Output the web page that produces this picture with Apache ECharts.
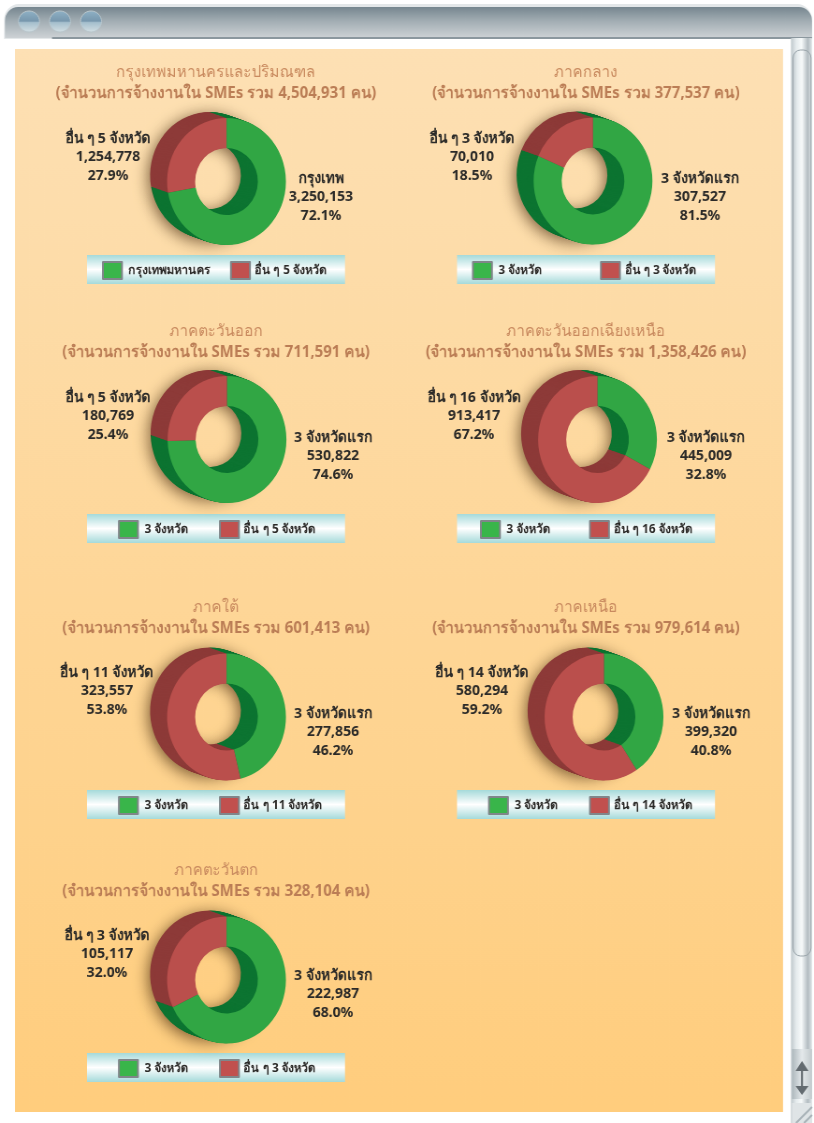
<!DOCTYPE html>
<html><head><meta charset="utf-8">
<style>html,body{margin:0;padding:0;background:#fff;overflow:hidden;width:814px;height:1123px}
#c{width:870px;height:1123px;transform:scaleX(.93563);transform-origin:0 0}</style>
<script src="https://cdn.jsdelivr.net/npm/echarts@6/dist/echarts.min.js"></script>
</head><body><div id="c"></div>
<script>
// ---- data ----
const regions = ['กรุงเทพมหานครและปริมณฑล','ภาคกลาง','ภาคตะวันออก','ภาคตะวันออกเฉียงเหนือ','ภาคใต้','ภาคเหนือ','ภาคตะวันตก'];
const totals  = ['4,504,931','377,537','711,591','1,358,426','601,413','979,614','328,104'];
const firstValues = [3250153,307527,530822,445009,277856,399320,222987];
const otherValues = [1254778,70010,180769,913417,323557,580294,105117];
const firstLegend = ['กรุงเทพมหานคร','3 จังหวัด','3 จังหวัด','3 จังหวัด','3 จังหวัด','3 จังหวัด','3 จังหวัด'];
const otherLegend = ['อื่น ๆ 5 จังหวัด','อื่น ๆ 3 จังหวัด','อื่น ๆ 5 จังหวัด','อื่น ๆ 16 จังหวัด','อื่น ๆ 11 จังหวัด','อื่น ๆ 14 จังหวัด','อื่น ๆ 3 จังหวัด'];
const firstLabel  = ['กรุงเทพ','3 จังหวัดแรก','3 จังหวัดแรก','3 จังหวัดแรก','3 จังหวัดแรก','3 จังหวัดแรก','3 จังหวัดแรก'];

// ---- layout and styles ----
// The whole chart is drawn slightly narrow (the donuts in the picture are tall ellipses),
// so every horizontal page position goes through X().
const CANVAS_W = 870, SX = 814 / CANVAS_W, X = x => x / SX;
const FONT = '"Noto Sans","Open Sans",sans-serif';
const GREEN='#31a644', GREEN_D='#0c7431', RED='#ba4f4c', RED_D='#8d3a38';
const LEG_GREEN='#39b54a', LEG_RED='#c1504e';
const pieCentres = [[226.5,181.5],[593,181],[227,439.5],[597.5,439.5],[226.5,717],[604,717],[226.5,980]];
const titleX = [216,586,216,586,216,586,216];
const titleY = [62,62,321,321,597,597,860];
const barPos = [[87,255],[457,255],[87,514],[457,514],[87,790],[457,790],[87,1053]];
const swatchX = [[102,230],[472,600],[118,219],[480,589],[118,219],[488,589],[118,219]];
const rightLabel = [[321,197],[700,197],[333,456],[706,456],[333,732],[711,732],[333,994]];
const leftLabel  = [[108,157],[472,157],[108,416],[474,416],[107,691],[482,691],[107,954]];
const R_OUT=63.5, R_IN=33.5, SHIFT=[-17,-6], LAYERS=20;

const fmt = n => n.toLocaleString('en-US');
const series=[], titles=[], legends=[], graphics=[];

// window chrome
const hGrad=(stops)=>({type:'linear',x:0,y:0,x2:1,y2:0,colorStops:stops});
const vGrad=(stops)=>({type:'linear',x:0,y:0,x2:0,y2:1,colorStops:stops});
const rail=hGrad([{offset:0,color:'#bfc8cc'},{offset:.25,color:'#e6ecee'},{offset:.5,color:'#f7fafa'},{offset:.8,color:'#b3bcc1'},{offset:1,color:'#dfe5e7'}]);
const box=(x,y,w,h,style,z,r)=>({type:'rect',z,shape:{x:X(x),y,width:X(w),height:h,r:r||0},style});
graphics.push(
 box(15,49,768,1063,{fill:vGrad([{offset:0,color:'#fde0b4'},{offset:1,color:'#ffcd7d'}])},-10),
 box(4,4,808,35,{fill:'#e3e7e9'},-9,[16,16,0,0]),
 box(5,7,807,31,{fill:vGrad([{offset:0,color:'#76868f'},{offset:.45,color:'#a2adb3'},{offset:1,color:'#cdd2d5'}])},-8,[14,14,0,0]),
 box(52,37,760,2,{fill:'#8b979e'},-8),
 box(791,38,21,1085,{fill:rail},-7),
 box(793,50,18,906,{fill:rail,stroke:'#98a3a9',lineWidth:1},-6,[8,8,8,8]),
 box(792,1049,20,50,{fill:hGrad([{offset:0,color:'#aeb8bd'},{offset:.5,color:'#e4e9eb'},{offset:1,color:'#c2cacd'}])},-6),
 box(792,1103,20,20,{fill:'#dfe4e6'},-6),
 {type:'line',z:-5,shape:{x1:X(796),y1:1123,x2:X(812),y2:1107},style:{stroke:'#a9b3b8',lineWidth:2}},
 {type:'line',z:-5,shape:{x1:X(804),y1:1123,x2:X(812),y2:1115},style:{stroke:'#a9b3b8',lineWidth:2}},
 {type:'polygon',z:-5,shape:{points:[[X(802),1061],[X(795.5),1071],[X(808.5),1071]]},style:{fill:'#636b70'}},
 {type:'polygon',z:-5,shape:{points:[[X(802),1095],[X(795.5),1086],[X(808.5),1086]]},style:{fill:'#636b70'}},
 box(801,1070,2,17,{fill:'#636b70'},-5)
);
[29,60,91].forEach(x=>graphics.push({type:'ellipse',z:-5,shape:{cx:X(x),cy:21.5,rx:X(10.5),ry:10.5},
  style:{fill:vGrad([{offset:0,color:'#90b2c6'},{offset:.48,color:'#7797ad'},{offset:.55,color:'#a5bfcd'},{offset:1,color:'#d5e0e4'}]),stroke:'#b9c6cc',lineWidth:1}}));

regions.forEach((name,k)=>{
  const [cx,cy]=pieCentres[k];
  const vals=[firstValues[k],otherValues[k]];
  const names=[firstLegend[k],otherLegend[k]];

  // extruded side walls, from the back layer forward
  for(let i=LAYERS;i>=1;i--){
    const t=i/LAYERS, back=i===LAYERS;
    series.push({type:'pie',silent:true,animation:false,startAngle:90,clockwise:true,
      center:[X(cx+SHIFT[0]*t),cy+SHIFT[1]*t],radius:[R_IN,R_OUT],label:{show:false},labelLine:{show:false},tooltip:{show:false},
      data:[0,1].map(j=>({name:names[j],value:vals[j],itemStyle:{color:j?RED_D:GREEN_D,
        shadowBlur:back?16:0,shadowColor:'rgba(50,25,0,.65)',shadowOffsetX:back?-2:0,shadowOffsetY:back?3:0}}))});
  }
  // front face with the labels
  const spots=[rightLabel[k],leftLabel[k]];
  series.push({type:'pie',animation:false,startAngle:90,clockwise:true,percentPrecision:1,
    center:[X(cx),cy],radius:[R_IN,R_OUT],
    data:[{name:names[0],value:vals[0],itemStyle:{color:GREEN}},{name:names[1],value:vals[1],itemStyle:{color:RED}}],
    label:{show:true,position:'outside',color:'#2b2a28',fontFamily:FONT,fontWeight:'bold',fontSize:15,lineHeight:18.7,align:'center',
      formatter:p=>(p.dataIndex===0?firstLabel[k]:names[1])+'\n'+fmt(p.value)+'\n'+p.percent.toFixed(1)+'%'},
    labelLine:{show:false},
    labelLayout:p=>({x:X(spots[p.dataIndex][0]),y:spots[p.dataIndex][1],align:'center',verticalAlign:'middle',moveOverlap:false,hideOverlap:false})
  });

  // two-line heading
  titles.push({text:name,subtext:'(จำนวนการจ้างงานใน SMEs รวม '+totals[k]+' คน)',left:X(titleX[k]),top:titleY[k],textAlign:'center',padding:0,itemGap:1,
    textStyle:{fontFamily:FONT,fontWeight:'normal',fontSize:16,color:'#c98a5f',lineHeight:20},
    subtextStyle:{fontFamily:FONT,fontWeight:'bold',fontSize:16,color:'#bb7d55',lineHeight:20}});

  // legend band and its two entries
  const [bx,by]=barPos[k];
  graphics.push(box(bx,by,258,29,{fill:vGrad([{offset:0,color:'#a5dada'},{offset:.5,color:'#ffffff'},{offset:1,color:'#a5dada'}])},-4));
  [0,1].forEach(j=>legends.push({left:X(swatchX[k][j]),top:by+6,orient:'horizontal',padding:0,itemWidth:X(19),itemHeight:17,itemGap:0,selectedMode:false,
    icon:'rect',formatter:n=>n,
    textStyle:{fontFamily:FONT,fontWeight:'bold',fontSize:12.5,color:'#2b2a28',padding:[0,0,0,j?0:2]},
    data:[{name:names[j],icon:'rect',itemStyle:{color:j?LEG_RED:LEG_GREEN,borderColor:'#80868a',borderWidth:2}}]}));
});

const chart=echarts.init(document.getElementById('c'),null,{renderer:'canvas',width:CANVAS_W,height:1123});
chart.setOption({backgroundColor:'#fff',animation:false,title:titles,legend:legends,series,graphic:graphics});
</script></body></html>
